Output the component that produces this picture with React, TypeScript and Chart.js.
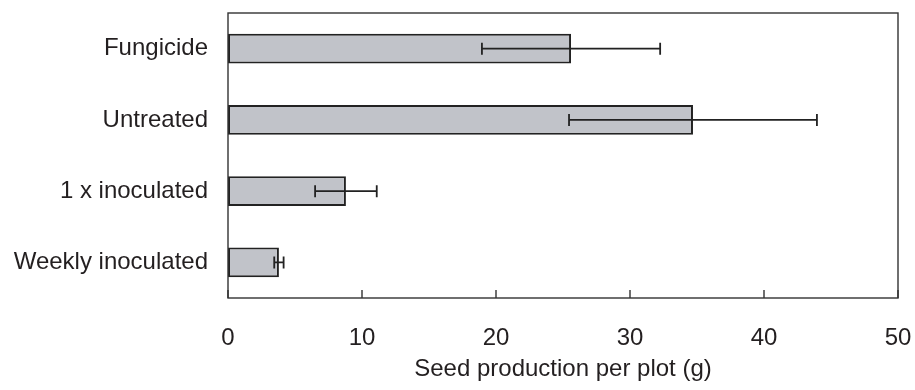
import React, { useEffect, useRef } from "react";
import { Chart, registerables } from "chart.js";

Chart.register(...registerables);

// Seed production per plot (g), mean and error for each treatment
const treatments = ["Fungicide", "Untreated", "1 x inoculated", "Weekly inoculated"];
const seedProduction = [25.6, 34.7, 8.8, 3.8];
const errorAmount = [6.65, 9.25, 2.3, 0.35];
const xTickValues = [0, 10, 20, 30, 40, 50];

const TEXT = "#231f20";
const FONT = "'Liberation Sans', Arial, Helvetica, sans-serif";

// Draws the error bars, the plot frame and the inward-pointing x tick marks
const frameAndErrors = {
  id: "frameAndErrors",
  afterDatasetsDraw(chart: any) {
    const { ctx, chartArea: a, scales } = chart;
    const x = scales.x;
    const y = scales.y;
    ctx.save();

    ctx.strokeStyle = "#222222";
    ctx.lineWidth = 1.8;
    const cap = 6;
    seedProduction.forEach((v, i) => {
      const lo = x.getPixelForValue(v - errorAmount[i]);
      const hi = x.getPixelForValue(v + errorAmount[i]);
      const cy = y.getPixelForValue(i);
      ctx.beginPath();
      ctx.moveTo(lo, cy);
      ctx.lineTo(hi, cy);
      ctx.moveTo(lo, cy - cap);
      ctx.lineTo(lo, cy + cap);
      ctx.moveTo(hi, cy - cap);
      ctx.lineTo(hi, cy + cap);
      ctx.stroke();
    });

    ctx.strokeStyle = "#333333";
    ctx.lineWidth = 1.4;
    ctx.strokeRect(a.left, a.top, a.right - a.left, a.bottom - a.top);

    ctx.beginPath();
    xTickValues.forEach((v) => {
      const px = x.getPixelForValue(v);
      ctx.moveTo(px, a.bottom);
      ctx.lineTo(px, a.bottom - 8);
    });
    ctx.stroke();

    ctx.restore();
  },
};

export default function App() {
  const canvasRef = useRef<HTMLCanvasElement | null>(null);

  useEffect(() => {
    const canvas = canvasRef.current;
    if (!canvas) return;
    Chart.defaults.font.family = FONT;

    const chart = new Chart(canvas, {
      type: "bar",
      data: {
        labels: treatments,
        datasets: [
          {
            data: seedProduction,
            backgroundColor: "#c1c3c9",
            borderColor: "#222222",
            borderWidth: 2,
            borderSkipped: false,
            barPercentage: 0.42,
            categoryPercentage: 1,
          },
        ],
      },
      options: {
        indexAxis: "y",
        responsive: false,
        animation: false,
        layout: { padding: { top: 13, right: 17, left: 0, bottom: 0 } },
        plugins: {
          legend: { display: false },
          tooltip: { enabled: false },
        },
        scales: {
          x: {
            type: "linear",
            min: 0,
            max: 50,
            afterBuildTicks: (scale: any) => {
              scale.ticks = xTickValues.map((v) => ({ value: v }));
            },
            afterFit: (scale: any) => {
              scale.height = 92;
              scale.paddingLeft = 0;
              scale.paddingRight = 0;
            },
            grid: { display: false, drawTicks: false },
            border: { display: false },
            ticks: {
              color: TEXT,
              font: { size: 24, family: FONT },
              padding: 26,
              maxRotation: 0,
            },
            title: {
              display: true,
              text: "Seed production per plot (g)",
              color: TEXT,
              font: { size: 24, family: FONT },
              padding: { top: 0, bottom: 6 },
            },
          },
          y: {
            type: "category",
            afterFit: (scale: any) => {
              scale.width = 228;
              scale.paddingTop = 0;
              scale.paddingBottom = 0;
            },
            grid: { display: false, drawTicks: false },
            border: { display: false },
            ticks: {
              color: TEXT,
              font: { size: 24, family: FONT },
              padding: 20,
            },
          },
        },
      },
      plugins: [frameAndErrors],
    });

    return () => chart.destroy();
  }, []);

  return (
    <div style={{ position: "fixed", left: 0, top: 0, width: 915, height: 390, background: "#ffffff" }}>
      <canvas ref={canvasRef} width={915} height={390} style={{ display: "block" }} />
    </div>
  );
}
